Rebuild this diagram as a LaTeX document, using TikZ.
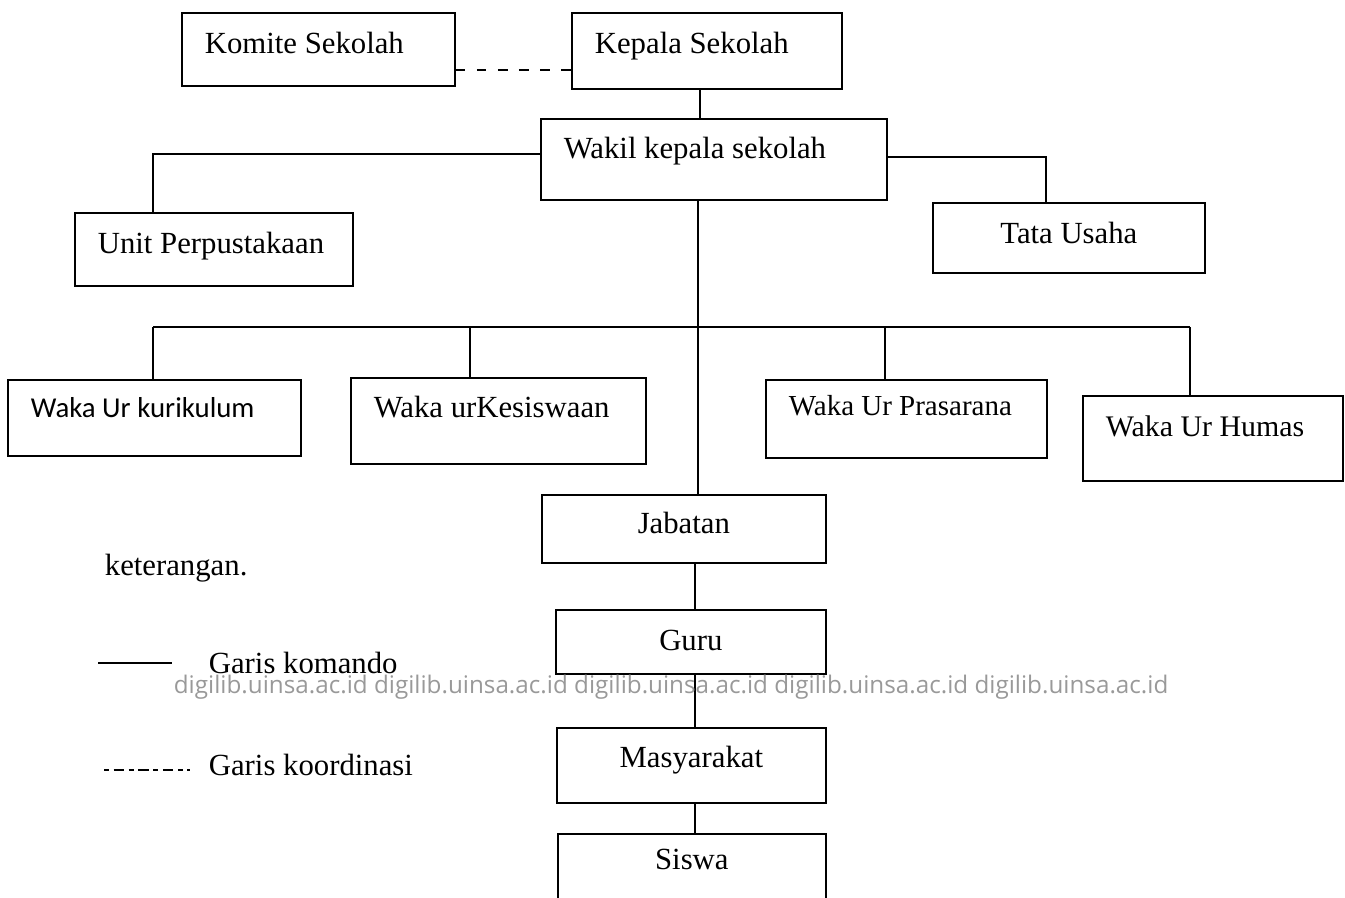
\documentclass[tikz,border=0pt]{standalone}
\usepackage{fontspec}
\setmainfont{Liberation Serif}
\newfontfamily\calfont{Carlito}
\newfontfamily\wmfont{Open Sans}
\usepackage{tikz}
\usetikzlibrary{positioning}

\begin{document}
\begin{tikzpicture}[x=0.02cm,y=-0.02cm,line width=1pt,
		box/.style={draw,anchor=north west,inner xsep=0.46cm,inner ysep=0pt,align=flush left,font=\fontsize{17.5}{20}\selectfont},
		cbox/.style={box,align=flush center},
		koord/.style={dash pattern=on 5.5pt off 6.5pt},
		legend/.style={anchor=base west,inner sep=0pt,font=\fontsize{17.5}{20}\selectfont}]

	\useasboundingbox (0,0) rectangle (1345,897);
	\clip (0,0) rectangle (1345,897);

	\node[box,text width=4.54cm,text height=0.82cm,text depth=0.64cm] (komite) at (181,12) {Komite Sekolah};
	\node[box,text width=4.48cm,text height=0.82cm,text depth=0.70cm] (kepala) at (571,12) {Kepala Sekolah};
	\node[box,text width=6.00cm,text height=0.80cm,text depth=0.82cm] (wakil) at (540,118) {Wakil kepala sekolah};
	\node[box,text width=4.64cm,text height=0.82cm,text depth=0.64cm] (unit) at (74,212) {Unit Perpustakaan};
	\node[cbox,text width=4.52cm,text height=0.82cm,text depth=0.58cm] (tata) at (932,202) {Tata Usaha};

	\node[box,text width=4.94cm,text height=0.76cm,text depth=0.76cm,font=\calfont\fontsize{16.4}{20}\selectfont] (kurikulum) at (7,379) {Waka Ur kurikulum};
	\node[box,text width=4.98cm,text height=0.80cm,text depth=0.92cm] (kesiswaan) at (350,377) {Waka urKesiswaan};
	\node[box,text width=4.70cm,text height=0.72cm,text depth=0.84cm,font=\fontsize{16.5}{20}\selectfont] (prasarana) at (765,379) {Waka Ur Prasarana};
	\node[box,text width=4.28cm,text height=0.82cm,text depth=0.88cm,font=\fontsize{17}{20}\selectfont] (humas) at (1082,395) {Waka Ur Humas};

	\node[cbox,text width=4.76cm,text height=0.78cm,text depth=0.58cm] (jabatan) at (541,494) {Jabatan};
	\node[cbox,text width=4.48cm,text height=0.82cm,text depth=0.46cm] (guru) at (555,609) {Guru};
	\node[cbox,text width=4.46cm,text height=0.80cm,text depth=0.70cm] (masyarakat) at (556,727) {Masyarakat};
	\node[cbox,text width=4.44cm,text height=0.72cm,text depth=1.60cm] (siswa) at (557,833) {Siswa};

	% garis komando dan koordinasi
	\draw[koord] (komite.east |- 0,70) -- (kepala.west |- 0,70);
	\draw (kepala.south -| 700,0) -- (wakil.north -| 700,0);
	\draw (wakil.west |- 0,154) -| (unit.north -| 153,0);
	\draw (wakil.east |- 0,157) -| (tata.north -| 1046,0);
	\draw (wakil.south -| 698,0) -- (jabatan.north -| 698,0);

	\coordinate (barL) at (153,327);
	\coordinate (barR) at (1190,327);
	\draw (barL) -- (barR);
	\draw (barL) -- (barL |- kurikulum.north);
	\draw (barR) -- (barR |- humas.north);
	\foreach \x/\n in {470/kesiswaan,885/prasarana}
		\draw (\x,327) -- (\x,327 |- \n.north);

	\foreach \a/\b in {jabatan/guru,guru/masyarakat,masyarakat/siswa}
		\draw (\a.south -| 695,0) -- (\b.north -| 695,0);

	% keterangan
	\node[legend] (ket) at (104,575) {keterangan.};
	\node[legend] (komando) at (208,673) {Garis komando};
	\node[legend] (koordinasi) at (208,775) {Garis koordinasi};
	\draw (98,663) -- (172,663);
	\draw[dash pattern=on 3pt off 2.5pt on 6pt off 2.5pt] (104,770) -- (190,770);

	\node[anchor=base west,inner sep=0pt,text=black!40,font=\wmfont\fontsize{13.8}{16}\selectfont] (wm) at (173,693)
		{digilib.uinsa.ac.id digilib.uinsa.ac.id digilib.uinsa.ac.id digilib.uinsa.ac.id digilib.uinsa.ac.id};
\end{tikzpicture}
\end{document}
